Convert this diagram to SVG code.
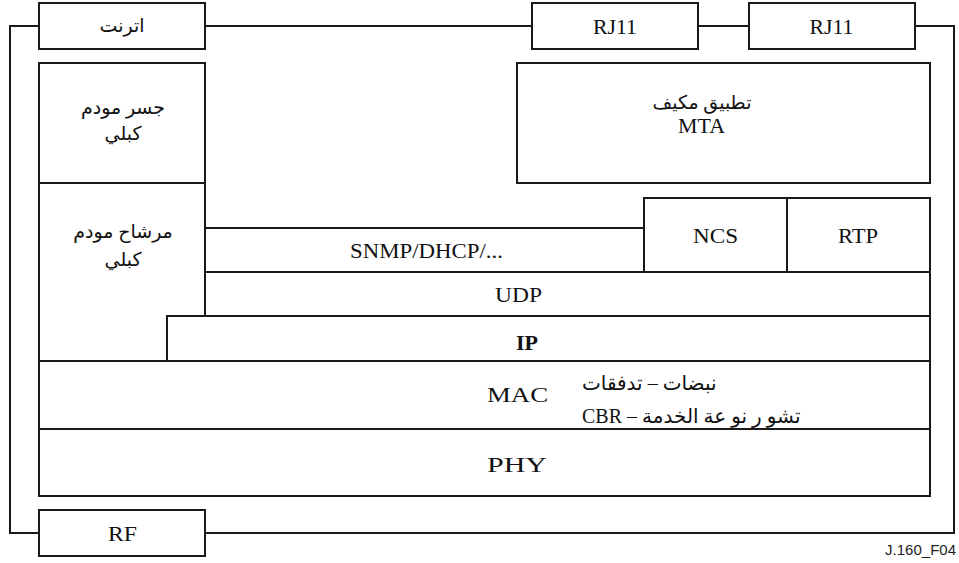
<svg xmlns="http://www.w3.org/2000/svg" width="959" height="563" viewBox="0 0 959 563">
<style>
.box{fill:#fff;stroke:#1a1a1a;stroke-width:2}
.ln{fill:none;stroke:#1a1a1a;stroke-width:2}
.t{font-size:22px;fill:#111;text-anchor:middle}
.ar{font-size:19px;fill:#111;text-anchor:middle}
.arl{font-size:20px;fill:#111;text-anchor:start}
.id{font-size:15px;fill:#222;text-anchor:end}
</style>
<rect width="959" height="563" fill="#fff"/>
<g id="connectors">
<path class="ln" d="M39,26 H10 V533 H39"/>
<path class="ln" d="M205,26 H532"/>
<path class="ln" d="M698,26 H749"/>
<path class="ln" d="M915,26 H954 V533 H205"/>
</g>
<g font-family="Liberation Serif, DejaVu Sans, serif">
<g id="internet"><rect class="box" x="39" y="3" width="166" height="46"/><text class="ar" x="122" y="32">اترنت</text></g>
<g id="rj11a"><rect class="box" x="532" y="3" width="166" height="46"/><text class="t" x="615" y="34" textLength="44" lengthAdjust="spacingAndGlyphs">RJ11</text></g>
<g id="rj11b"><rect class="box" x="749" y="3" width="166" height="46"/><text class="t" x="831.5" y="34" textLength="44" lengthAdjust="spacingAndGlyphs">RJ11</text></g>
<g id="rf"><rect class="box" x="39" y="510" width="166" height="46"/><text class="t" x="122.5" y="541" textLength="29" lengthAdjust="spacingAndGlyphs">RF</text></g>
<g id="bridge"><rect class="box" x="39" y="63" width="166" height="120"/><text class="ar" x="123" y="114">جسر مودم</text><text class="ar" x="123" y="140">كبلي</text></g>
<g id="mta"><rect class="box" x="517" y="63" width="413" height="120"/><text class="ar" x="702" y="109">تطبيق مكيف</text><text class="t" x="701.5" y="133" textLength="47" lengthAdjust="spacingAndGlyphs">MTA</text></g>
<g id="filter"><path class="box" d="M39,183 H205 V316 H167 V361 H39 Z"/><text class="ar" x="123" y="238">مرشاح مودم</text><text class="ar" x="123" y="266">كبلي</text></g>
<g id="snmp"><rect class="box" x="205" y="228" width="439" height="44"/><text class="t" x="426.5" y="258" textLength="153" lengthAdjust="spacingAndGlyphs">SNMP/DHCP/...</text></g>
<g id="ncs"><rect class="box" x="644" y="198" width="143" height="74"/><text class="t" x="715.5" y="243" textLength="45" lengthAdjust="spacingAndGlyphs">NCS</text></g>
<g id="rtp"><rect class="box" x="787" y="198" width="143" height="74"/><text class="t" x="858" y="243" textLength="40" lengthAdjust="spacingAndGlyphs">RTP</text></g>
<g id="udp"><rect class="box" x="205" y="272" width="725" height="44"/><text class="t" x="518.5" y="302" textLength="47" lengthAdjust="spacingAndGlyphs">UDP</text></g>
<g id="ip"><rect class="box" x="167" y="316" width="763" height="45"/><text class="t" x="527" y="350" font-weight="bold">IP</text></g>
<g id="mac"><rect class="box" x="39" y="361" width="891" height="68"/><text class="t" x="517.5" y="402" textLength="61" lengthAdjust="spacingAndGlyphs">MAC</text><text class="arl" x="582" y="390">نبضات – تدفقات</text><text class="arl" x="582" y="423">CBR – تشو ر نو عة الخدمة</text></g>
<g id="phy"><rect class="box" x="39" y="429" width="891" height="67"/><text class="t" x="517" y="472" textLength="60" lengthAdjust="spacingAndGlyphs">PHY</text></g>
</g>
<text class="id" x="956" y="555" font-family="Liberation Sans, Arial, sans-serif">J.160_F04</text>
</svg>
